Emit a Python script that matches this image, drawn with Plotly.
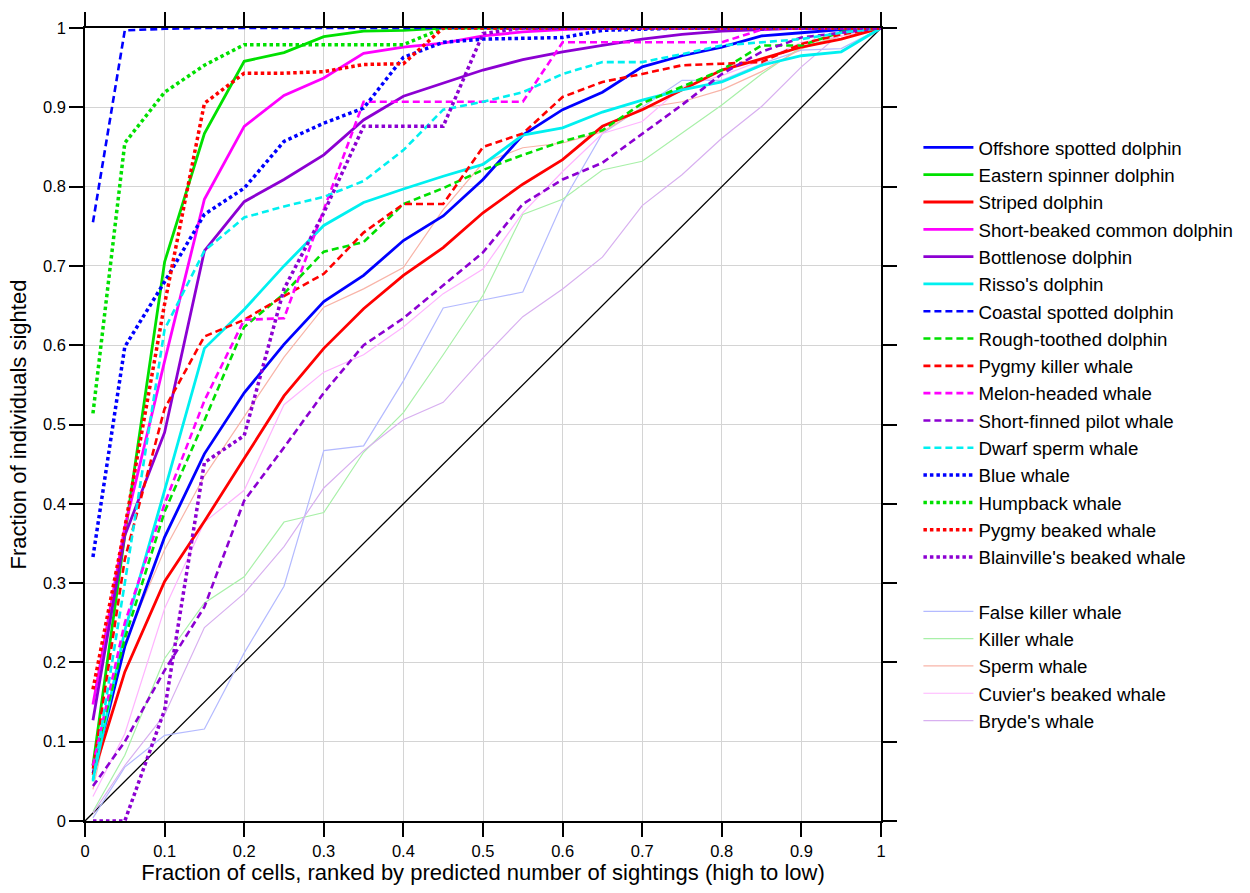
import plotly.graph_objects as go

# x positions (fraction of cells)
frac_cells = [0.01, 0.05, 0.1, 0.15, 0.2, 0.25, 0.3, 0.35, 0.4, 0.45, 0.5,
              0.55, 0.6, 0.65, 0.7, 0.75, 0.8, 0.85, 0.9, 0.95, 1.0]

offshore_spotted = [0.06, 0.22, 0.358, 0.463, 0.540, 0.601, 0.655, 0.688, 0.732, 0.763, 0.809,
                    0.865, 0.897, 0.919, 0.951, 0.965, 0.976, 0.990, 0.994, 0.998, 1.0]
eastern_spinner = [0.07, 0.36, 0.705, 0.867, 0.958, 0.969, 0.989, 0.996, 0.997, 1.0, 1.0,
                   1.0, 1.0, 1.0, 1.0, 1.0, 1.0, 1.0, 1.0, 1.0, 1.0]
striped = [0.058, 0.188, 0.302, 0.378, 0.457, 0.536, 0.596, 0.646, 0.688, 0.723, 0.767,
           0.803, 0.834, 0.876, 0.897, 0.922, 0.947, 0.961, 0.976, 0.986, 1.0]
short_beaked_common = [0.147, 0.37, 0.58, 0.784, 0.876, 0.915, 0.937, 0.968, 0.976, 0.981, 0.990,
                       0.995, 0.998, 1.0, 1.0, 1.0, 1.0, 1.0, 1.0, 1.0, 1.0]
bottlenose = [0.127, 0.36, 0.49, 0.719, 0.781, 0.809, 0.840, 0.884, 0.914, 0.931, 0.947,
              0.960, 0.970, 0.978, 0.986, 0.992, 0.996, 0.998, 1.0, 1.0, 1.0]
rissos = [0.052, 0.24, 0.417, 0.596, 0.645, 0.700, 0.751, 0.780, 0.797, 0.813, 0.828,
          0.865, 0.874, 0.894, 0.909, 0.922, 0.932, 0.953, 0.965, 0.970, 1.0]
coastal_spotted = [0.755, 0.997, 0.999, 1.0, 1.0, 1.0, 1.0, 1.0, 1.0, 1.0, 1.0,
                   1.0, 1.0, 1.0, 1.0, 1.0, 1.0, 1.0, 1.0, 1.0, 1.0]
rough_toothed = [0.07, 0.23, 0.39, 0.505, 0.623, 0.665, 0.718, 0.730, 0.778, 0.798, 0.821,
                 0.840, 0.857, 0.871, 0.905, 0.926, 0.947, 0.978, 0.978, 0.995, 1.0]
pygmy_killer = [0.066, 0.33, 0.52, 0.611, 0.632, 0.662, 0.690, 0.742, 0.778, 0.778, 0.850,
                0.867, 0.913, 0.932, 0.942, 0.953, 0.955, 0.957, 0.980, 0.992, 1.0]
melon_headed = [0.07, 0.25, 0.40, 0.53, 0.632, 0.634, 0.771, 0.907, 0.907, 0.907, 0.907,
                0.907, 0.982, 0.982, 0.982, 0.982, 0.982, 0.998, 1.0, 1.0, 1.0]
short_finned_pilot = [0.044, 0.10, 0.19, 0.27, 0.404, 0.471, 0.540, 0.600, 0.634, 0.675, 0.717,
                      0.778, 0.809, 0.830, 0.867, 0.903, 0.942, 0.970, 0.988, 0.994, 1.0]
dwarf_sperm = [0.05, 0.30, 0.62, 0.719, 0.761, 0.775, 0.787, 0.807, 0.846, 0.897, 0.907,
               0.919, 0.942, 0.957, 0.957, 0.967, 0.978, 0.982, 0.986, 0.994, 1.0]
blue_whale = [0.333, 0.598, 0.68, 0.765, 0.798, 0.857, 0.880, 0.899, 0.963, 0.982, 0.986,
              0.987, 0.988, 0.997, 0.999, 1.0, 1.0, 1.0, 1.0, 1.0, 1.0]
humpback = [0.514, 0.855, 0.919, 0.953, 0.979, 0.979, 0.979, 0.979, 0.979, 1.0, 1.0,
            1.0, 1.0, 1.0, 1.0, 1.0, 1.0, 1.0, 1.0, 1.0, 1.0]
pygmy_beaked = [0.166, 0.37, 0.652, 0.905, 0.943, 0.943, 0.945, 0.954, 0.955, 1.0, 1.0,
                1.0, 1.0, 1.0, 1.0, 1.0, 1.0, 1.0, 1.0, 1.0, 1.0]
blainvilles_beaked = [0.0, 0.0, 0.14, 0.452, 0.486, 0.671, 0.767, 0.876, 0.876, 0.876, 0.993,
                      1.0, 1.0, 1.0, 1.0, 1.0, 1.0, 1.0, 1.0, 1.0, 1.0]
false_killer = [0.004, 0.068, 0.108, 0.116, 0.212, 0.296, 0.467, 0.473, 0.555, 0.647, 0.657,
                0.667, 0.780, 0.867, 0.900, 0.934, 0.934, 0.955, 0.972, 0.974, 1.0]
killer = [0.012, 0.083, 0.205, 0.275, 0.308, 0.377, 0.389, 0.465, 0.515, 0.588, 0.663,
          0.765, 0.784, 0.821, 0.832, 0.867, 0.903, 0.942, 0.976, 0.990, 1.0]
sperm = [0.04, 0.225, 0.342, 0.435, 0.51, 0.585, 0.648, 0.671, 0.698, 0.771, 0.830,
         0.849, 0.855, 0.869, 0.899, 0.907, 0.922, 0.945, 0.974, 0.990, 1.0]
cuviers_beaked = [0.031, 0.11, 0.268, 0.377, 0.417, 0.525, 0.566, 0.588, 0.623, 0.665, 0.696,
                  0.767, 0.819, 0.867, 0.882, 0.926, 0.940, 0.959, 0.982, 0.990, 1.0]
brydes = [0.01, 0.07, 0.134, 0.244, 0.287, 0.346, 0.420, 0.467, 0.506, 0.528, 0.584,
          0.636, 0.671, 0.711, 0.776, 0.815, 0.861, 0.901, 0.951, 0.994, 1.0]

diag_x = [0, 1]
diag_y = [0, 1]

tick_vals = [0, 0.1, 0.2, 0.3, 0.4, 0.5, 0.6, 0.7, 0.8, 0.9, 1]
tick_text = ["0", "0.1", "0.2", "0.3", "0.4", "0.5", "0.6", "0.7", "0.8", "0.9", "1"]

BLUE, GREEN, RED, MAG, PUR, CYAN = "#0000ff", "#00e000", "#ff0000", "#ff00ff", "#8c00d2", "#00f0f0"

main_series = [
    ("Offshore spotted dolphin", offshore_spotted, BLUE, "solid"),
    ("Eastern spinner dolphin", eastern_spinner, GREEN, "solid"),
    ("Striped dolphin", striped, RED, "solid"),
    ("Short-beaked common dolphin", short_beaked_common, MAG, "solid"),
    ("Bottlenose dolphin", bottlenose, PUR, "solid"),
    ("Risso's dolphin", rissos, CYAN, "solid"),
    ("Coastal spotted dolphin", coastal_spotted, BLUE, "dash"),
    ("Rough-toothed dolphin", rough_toothed, GREEN, "dash"),
    ("Pygmy killer whale", pygmy_killer, RED, "dash"),
    ("Melon-headed whale", melon_headed, MAG, "dash"),
    ("Short-finned pilot whale", short_finned_pilot, PUR, "dash"),
    ("Dwarf sperm whale", dwarf_sperm, CYAN, "dash"),
    ("Blue whale", blue_whale, BLUE, "dot"),
    ("Humpback whale", humpback, GREEN, "dot"),
    ("Pygmy beaked whale", pygmy_beaked, RED, "dot"),
    ("Blainville's beaked whale", blainvilles_beaked, PUR, "dot"),
]
light_series = [
    ("False killer whale", false_killer, "#b4baff"),
    ("Killer whale", killer, "#a8f0a8"),
    ("Sperm whale", sperm, "#f8b4a8"),
    ("Cuvier's beaked whale", cuviers_beaked, "#ffb4ff"),
    ("Bryde's whale", brydes, "#d8b0f0"),
]

fig = go.Figure()

fig.add_trace(go.Scatter(x=diag_x, y=diag_y, mode="lines", showlegend=False,
                         line=dict(color="black", width=1.3), hoverinfo="skip"))

rank = 1
for name, vals, col in light_series:
    fig.add_trace(go.Scatter(x=frac_cells, y=vals, mode="lines", name=name,
                             legendgroup="b", legendrank=100 + rank,
                             line=dict(color=col, width=1.2)))
    rank += 1

rank = 1
for name, vals, col, style in main_series:
    if style == "solid":
        line = dict(color=col, width=2.8)
    elif style == "dash":
        line = dict(color=col, width=2.6, dash="7px,4px")
    else:
        line = dict(color=col, width=3.5, dash="3.5px,3px")
    fig.add_trace(go.Scatter(x=frac_cells, y=vals, mode="lines", name=name,
                             legendgroup="a", legendrank=rank, line=line))
    rank += 1

axis_common = dict(
    range=[0, 1], tickvals=tick_vals, ticktext=tick_text,
    showgrid=True, gridcolor="#d4d4d4", gridwidth=1,
    showline=True, linecolor="black", linewidth=1.6, mirror="ticks",
    ticks="outside", ticklen=14, tickwidth=1.5, tickcolor="black",
    zeroline=False, tickfont=dict(size=16.5, color="black"),
)

fig.update_layout(
    width=1250, height=893, autosize=False,
    margin=dict(l=85, r=365, t=24, b=70),
    plot_bgcolor="white", paper_bgcolor="white",
    font=dict(family="Liberation Sans, Arial, sans-serif", color="black"),
    xaxis=dict(title=dict(text="Fraction of cells, ranked by predicted number of sightings (high to low)",
                          font=dict(size=22), standoff=6), **axis_common),
    yaxis=dict(title=dict(text="Fraction of individuals sighted", font=dict(size=22), standoff=10),
               **axis_common),
    legend=dict(x=1.047, y=0.873, xanchor="left", yanchor="top",
                font=dict(size=18.7, color="black"), traceorder="grouped",
                tracegroupgap=27, itemwidth=50, bgcolor="rgba(0,0,0,0)"),
    showlegend=True,
)

fig.write_html("out.html", config={"displayModeBar": False},
               post_script="document.body.style.margin='0';document.body.style.overflow='hidden';")
